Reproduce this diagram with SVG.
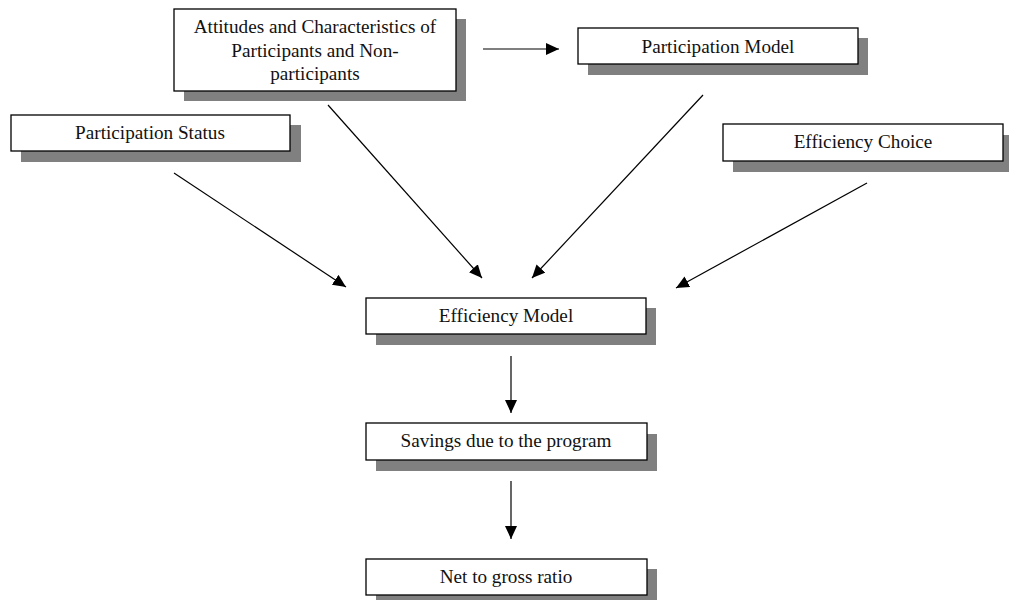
<svg xmlns="http://www.w3.org/2000/svg" width="1009" height="600" viewBox="0 0 1009 600">
<style>
.shadow{fill:#808080;stroke:none}
.box{fill:#fff;stroke:#000;stroke-width:1.3}
.lbl{font-family:"Liberation Serif","Times New Roman",serif;font-size:19.2px;fill:#111;text-anchor:middle}
.conn{stroke:#000;stroke-width:1.2;fill:none;marker-end:url(#ah)}
</style>
<defs>
<marker id="ah" markerUnits="userSpaceOnUse" markerWidth="14" markerHeight="12" refX="13" refY="6" orient="auto">
<path d="M0,0 L13,6 L0,12 Z" fill="#000"/>
</marker>
</defs>
<rect width="1009" height="600" fill="#fff"/>
<g id="connectors">
<line class="conn" x1="483" y1="49" x2="559" y2="49"/>
<line class="conn" x1="174" y1="173" x2="346" y2="287"/>
<line class="conn" x1="328" y1="105" x2="482" y2="278"/>
<line class="conn" x1="703" y1="95" x2="532" y2="278"/>
<line class="conn" x1="867" y1="183" x2="676" y2="288"/>
<line class="conn" x1="511" y1="356" x2="511" y2="413"/>
<line class="conn" x1="511" y1="481" x2="511" y2="539"/>
</g>
<g id="attitudes">
<rect class="shadow" x="184" y="19" width="282" height="82"/>
<rect class="box" x="174" y="9" width="282" height="82"/>
<text class="lbl" x="315" y="33">Attitudes and Characteristics of</text>
<text class="lbl" x="315" y="57">Participants and Non-</text>
<text class="lbl" x="315" y="80">participants</text>
</g>
<g id="participation-model">
<rect class="shadow" x="588" y="38" width="280" height="37"/>
<rect class="box" x="578" y="28" width="280" height="36"/>
<text class="lbl" x="718" y="53">Participation Model</text>
</g>
<g id="participation-status">
<rect class="shadow" x="21" y="125" width="280" height="37"/>
<rect class="box" x="11" y="115" width="279" height="36"/>
<text class="lbl" x="150" y="139">Participation Status</text>
</g>
<g id="efficiency-choice">
<rect class="shadow" x="733" y="135" width="280" height="37"/>
<rect class="box" x="723" y="124" width="280" height="37"/>
<text class="lbl" x="863" y="148">Efficiency Choice</text>
</g>
<g id="efficiency-model">
<rect class="shadow" x="376" y="308" width="280" height="37"/>
<rect class="box" x="366" y="298" width="280" height="36"/>
<text class="lbl" x="506" y="322">Efficiency Model</text>
</g>
<g id="savings">
<rect class="shadow" x="376" y="434" width="281" height="37"/>
<rect class="box" x="366" y="423" width="281" height="37"/>
<text class="lbl" x="506" y="447">Savings due to the program</text>
</g>
<g id="net-to-gross">
<rect class="shadow" x="376" y="569" width="281" height="37"/>
<rect class="box" x="366" y="559" width="281" height="36"/>
<text class="lbl" x="506" y="583">Net to gross ratio</text>
</g>
</svg>
